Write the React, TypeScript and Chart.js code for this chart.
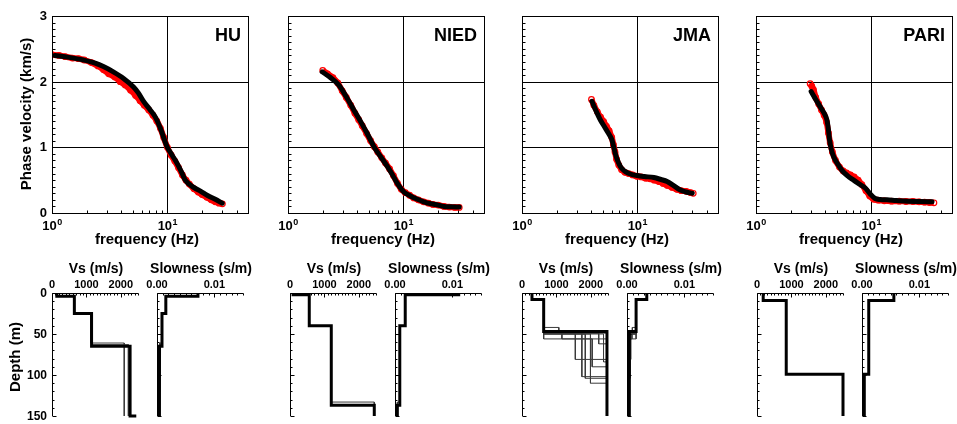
import React, { useEffect, useRef } from 'react';
import { Chart, registerables } from 'chart.js';

Chart.register(...registerables);

const W = 957;
const H = 424;
const FONT = '"Liberation Sans", Arial, Helvetica, sans-serif';

const siteNames = ['HU', 'NIED', 'JMA', 'PARI'];

// ---------- Dispersion: observed (red circles) ----------
const huObsFreq = [1.0, 1.15, 1.3, 1.5, 1.7, 1.9, 2.2, 2.5, 2.8, 3.1, 3.5, 3.9, 4.3, 4.8, 5.3, 5.8, 6.3, 6.9, 7.5, 8.1, 8.7, 9.3, 10.0, 10.8, 11.6, 12.5, 13.5, 14.5, 15.5, 17, 18.5, 20, 22, 24, 26, 28, 30];
const huObsVel = [2.41, 2.40, 2.38, 2.36, 2.35, 2.33, 2.29, 2.24, 2.18, 2.12, 2.07, 2.00, 1.95, 1.87, 1.79, 1.71, 1.64, 1.57, 1.49, 1.40, 1.29, 1.15, 1.00, 0.88, 0.79, 0.69, 0.58, 0.50, 0.44, 0.37, 0.32, 0.28, 0.24, 0.20, 0.17, 0.15, 0.14];
const niedObsFreq = [2.0, 2.2, 2.45, 2.7, 2.95, 3.2, 3.5, 3.8, 4.1, 4.4, 4.8, 5.2, 5.6, 6.0, 6.5, 7.0, 7.6, 8.2, 8.9, 9.6, 10.4, 11.3, 12.3, 13.5, 15, 16.5, 18, 20, 22.5, 25, 28, 30.5];
const niedObsVel = [2.17, 2.12, 2.06, 1.98, 1.86, 1.76, 1.64, 1.52, 1.42, 1.33, 1.21, 1.10, 1.01, 0.93, 0.84, 0.76, 0.67, 0.57, 0.45, 0.36, 0.31, 0.27, 0.23, 0.20, 0.17, 0.15, 0.13, 0.12, 0.10, 0.09, 0.085, 0.085];
const jmaObsFreq = [4.0, 4.2, 4.5, 4.8, 5.1, 5.4, 5.7, 6.0, 6.2, 6.4, 6.6, 6.9, 7.3, 7.8, 8.4, 9.1, 9.9, 10.8, 11.8, 12.9, 14.0, 15.3, 16.7, 18.2, 20, 22, 24, 26.5, 29, 30.5];
const jmaObsVel = [1.73, 1.64, 1.54, 1.46, 1.39, 1.32, 1.25, 1.15, 1.04, 0.93, 0.82, 0.73, 0.66, 0.62, 0.60, 0.58, 0.56, 0.55, 0.53, 0.52, 0.50, 0.48, 0.45, 0.42, 0.39, 0.36, 0.34, 0.33, 0.31, 0.30];
const pariObsFreq = [2.95, 3.05, 3.15, 3.3, 3.5, 3.7, 3.9, 4.1, 4.25, 4.4, 4.6, 4.9, 5.3, 5.7, 6.1, 6.6, 7.1, 7.7, 8.3, 9.0, 9.7, 10.5, 11.5, 13, 15, 17.5, 20, 23, 26, 29, 32, 35];
const pariObsVel = [1.97, 1.93, 1.88, 1.76, 1.66, 1.57, 1.49, 1.38, 1.22, 1.07, 0.93, 0.80, 0.70, 0.64, 0.61, 0.58, 0.55, 0.50, 0.43, 0.34, 0.26, 0.21, 0.195, 0.185, 0.18, 0.18, 0.175, 0.175, 0.17, 0.165, 0.16, 0.155];

// ---------- Dispersion: theoretical (black line) ----------
const huFitFreq = [1.06, 1.4, 1.87, 2.4, 2.79, 3.4, 4.17, 5.09, 5.6, 6.22, 7.1, 7.87, 8.7, 9.94, 11.0, 12.1, 13.3, 14.3, 16.9, 19.5, 22.1, 26, 29.9];
const huFitVel = [2.40, 2.37, 2.33, 2.28, 2.23, 2.15, 2.05, 1.92, 1.83, 1.70, 1.57, 1.46, 1.29, 1.01, 0.88, 0.76, 0.62, 0.50, 0.39, 0.33, 0.27, 0.21, 0.15];
const niedFitFreq = [1.98, 2.3, 2.75, 3.2, 3.72, 4.3, 4.86, 5.56, 6.4, 7.26, 8.0, 8.87, 10.1, 11.5, 13.2, 15, 17.3, 20, 22.5, 26, 30.5];
const niedFitVel = [2.15, 2.07, 1.95, 1.77, 1.57, 1.38, 1.21, 1.01, 0.85, 0.71, 0.59, 0.45, 0.32, 0.26, 0.21, 0.17, 0.14, 0.12, 0.10, 0.095, 0.09];
const jmaFitFreq = [4.04, 4.4, 4.77, 5.2, 5.63, 6.0, 6.23, 6.5, 6.88, 7.3, 7.87, 8.8, 9.94, 11.5, 13.9, 16, 18.1, 20.5, 23.6, 26.5, 29.9];
const jmaFitVel = [1.70, 1.55, 1.42, 1.31, 1.21, 1.12, 1.01, 0.88, 0.76, 0.68, 0.63, 0.59, 0.57, 0.555, 0.54, 0.51, 0.48, 0.42, 0.35, 0.32, 0.30];
const pariFitFreq = [3.01, 3.3, 3.6, 3.9, 4.12, 4.25, 4.35, 4.5, 4.71, 5.1, 5.57, 6.2, 7.03, 7.9, 8.88, 9.8, 10.8, 12, 13.7, 16.5, 20.5, 26, 33.7];
const pariFitVel = [1.85, 1.73, 1.62, 1.52, 1.42, 1.27, 1.11, 0.97, 0.86, 0.75, 0.65, 0.57, 0.50, 0.44, 0.38, 0.29, 0.22, 0.205, 0.20, 0.19, 0.18, 0.175, 0.17];

const obsFreq = [huObsFreq, niedObsFreq, jmaObsFreq, pariObsFreq];
const obsVel = [huObsVel, niedObsVel, jmaObsVel, pariObsVel];
const fitFreq = [huFitFreq, niedFitFreq, jmaFitFreq, pariFitFreq];
const fitVel = [huFitVel, niedFitVel, jmaFitVel, pariFitVel];

// ---------- Vs models: layer velocity (m/s) and layer base depth (m) ----------
const huBestVs = [140, 650, 1150, 2270, 2450];
const huBestBase = [4, 25, 65, 150, 150];
const huAltVs = [[140, 650, 1130, 2100], [140, 650, 1165, 2220]];
const huAltBase = [[4, 25, 61, 150], [4, 25, 63, 150]];

const niedBestVs = [90, 560, 1200, 2450];
const niedBestBase = [2, 40, 137, 150];
const niedAltVs = [[90, 560, 1190, 2450]];
const niedAltBase = [[2, 40, 133, 150]];

const jmaBestVs = [290, 630, 2470];
const jmaBestBase = [8, 47, 150];
const jmaAltVs = [
  [290, 630, 1070, 2470],
  [290, 630, 1160, 2470],
  [290, 630, 1550, 2470],
  [290, 630, 1740, 2470],
  [290, 630, 1840, 2470],
  [290, 630, 1990, 2470],
  [290, 630, 2040, 2470],
  [290, 630, 2230, 2470],
  [290, 630, 2370, 2470],
];
const jmaAltBase = [
  [8, 42, 49, 150],
  [8, 47, 56, 150],
  [8, 48, 81, 150],
  [8, 49, 102, 150],
  [8, 50, 104, 150],
  [8, 50, 110, 150],
  [8, 56, 90, 150],
  [8, 49, 62, 150],
  [8, 50, 84, 150],
];

const pariBestVs = [180, 850, 2500];
const pariBestBase = [9, 99, 150];
const pariAltVs: number[][] = [];
const pariAltBase: number[][] = [];

const bestVs = [huBestVs, niedBestVs, jmaBestVs, pariBestVs];
const bestBase = [huBestBase, niedBestBase, jmaBestBase, pariBestBase];
const altVs = [huAltVs, niedAltVs, jmaAltVs, pariAltVs];
const altBase = [huAltBase, niedAltBase, jmaAltBase, pariAltBase];

// ---------- ticks ----------
const velTicks = [0, 1, 2, 3];
const velGrid = [1, 2];
const freqGrid = [10];
const freqLabelTicks = [1, 10];
const freqMinorTicks = [1, 2, 3, 4, 5, 6, 7, 8, 9, 10, 20, 30, 40, 50];
const depthTicks = [0, 50, 100, 150];
const vsTicks = [0, 1000, 2000];
const slowTicks = [0, 0.01];

// ---------- layout (px) ----------
const DISP_LEFT = [52, 288, 522, 756];
const DISP_W = 196;
const DISP_TOP = 16;
const DISP_BOTTOM = 213;
const VS_LEFT = [52, 290, 522, 757];
const SLOW_GAP = 105;
const PROF_W = 86;
const PROF_TOP = 293;
const PROF_BOTTOM = 416;

const snap = (v: number) => Math.round(v) + 0.5;
function seg(ctx: CanvasRenderingContext2D, x1: number, y1: number, x2: number, y2: number) {
  ctx.beginPath();
  ctx.moveTo(x1, y1);
  ctx.lineTo(x2, y2);
  ctx.stroke();
}
function rotText(ctx: CanvasRenderingContext2D, text: string, x: number, y: number) {
  ctx.save();
  ctx.translate(x, y);
  ctx.rotate(-Math.PI / 2);
  ctx.textAlign = 'center';
  ctx.textBaseline = 'middle';
  ctx.fillText(text, 0, 0);
  ctx.restore();
}

function steps(vs: number[], base: number[], inv: boolean) {
  const pts: { x: number; y: number }[] = [];
  let top = 0;
  vs.forEach((v, k) => {
    const x = inv ? 1 / v : v;
    pts.push({ x, y: top }, { x, y: base[k] });
    top = base[k];
  });
  return pts;
}

function baseOptions(area: number[], xScale: any, yScale: any) {
  const [l, t, r, b] = area;
  return {
    responsive: false,
    animation: false,
    devicePixelRatio: 1,
    events: [],
    layout: { padding: { left: l, top: t, right: W - r, bottom: H - b } },
    plugins: { legend: { display: false }, tooltip: { enabled: false }, title: { display: false } },
    scales: { x: { ...xScale, display: false }, y: { ...yScale, display: false } },
  };
}

function dispDeco(i: number) {
  return {
    id: 'dispDeco',
    beforeDatasetsDraw(chart: any) {
      const { ctx, chartArea: a } = chart;
      const xs = chart.scales.x;
      const ys = chart.scales.y;
      ctx.save();
      ctx.strokeStyle = '#000';
      ctx.lineWidth = 1;
      for (const v of velGrid) {
        const py = snap(ys.getPixelForValue(v));
        seg(ctx, a.left, py, a.right, py);
      }
      for (const f of freqGrid) {
        const px = snap(xs.getPixelForValue(f));
        seg(ctx, px, a.top, px, a.bottom);
      }
      ctx.restore();
    },
    afterDraw(chart: any) {
      const { ctx, chartArea: a } = chart;
      const xs = chart.scales.x;
      const ys = chart.scales.y;
      ctx.save();
      ctx.strokeStyle = '#000';
      ctx.fillStyle = '#000';
      ctx.lineWidth = 1;
      const L = snap(a.left), R = snap(a.right), T = snap(a.top), B = snap(a.bottom);
      ctx.strokeRect(L, T, R - L, B - T);
      for (let k = 0; k <= 30; k++) {
        const py = snap(ys.getPixelForValue(k / 10));
        seg(ctx, L, py, L + (k % 10 === 0 ? 6 : 3), py);
      }
      for (const f of freqMinorTicks) {
        const px = snap(xs.getPixelForValue(f));
        const major = f === 1 || f === 10;
        seg(ctx, px, B, px, B - (major ? 6 : 3));
      }
      // x labels 10^n
      for (const f of freqLabelTicks) {
        const px = xs.getPixelForValue(f);
        const ex = String(Math.round(Math.log10(f)));
        ctx.font = `bold 13px ${FONT}`;
        const w1 = ctx.measureText('10').width;
        ctx.font = `bold 9px ${FONT}`;
        const w2 = ctx.measureText(ex).width;
        const x0 = px - (w1 + w2) / 2;
        ctx.textAlign = 'left';
        ctx.textBaseline = 'alphabetic';
        ctx.font = `bold 13px ${FONT}`;
        ctx.fillText('10', x0, 230);
        ctx.font = `bold 9px ${FONT}`;
        ctx.fillText(ex, x0 + w1 + 0.5, 224.5);
      }
      ctx.font = `bold 15px ${FONT}`;
      ctx.textAlign = 'center';
      ctx.fillText('frequency (Hz)', a.left + 95, 244);
      ctx.font = `bold 18px ${FONT}`;
      ctx.textAlign = 'right';
      ctx.fillText(siteNames[i], a.left + 189, 40.5);
      if (i === 0) {
        ctx.font = `bold 13px ${FONT}`;
        ctx.textAlign = 'right';
        ctx.textBaseline = 'middle';
        for (const v of velTicks) {
          ctx.fillText(String(v), a.left - 5, ys.getPixelForValue(v) + 0.5);
        }
        ctx.font = `bold 15px ${FONT}`;
        rotText(ctx, 'Phase velocity (km/s)', 26.5, 114);
      }
      ctx.restore();
    },
  };
}

function profDeco(i: number, kind: 'vs' | 'slow') {
  return {
    id: 'profDeco',
    afterDraw(chart: any) {
      const { ctx, chartArea: a } = chart;
      const xs = chart.scales.x;
      const ys = chart.scales.y;
      ctx.save();
      ctx.strokeStyle = '#000';
      ctx.fillStyle = '#000';
      ctx.lineWidth = 1;
      const L = snap(a.left), T = snap(a.top), R = snap(a.right);
      seg(ctx, L, T, R, T);
      seg(ctx, L, T, L, a.bottom);
      const n = kind === 'vs' ? 25 : 15;
      const stepV = kind === 'vs' ? 100 : 0.001;
      for (let k = 0; k <= n; k++) {
        const px = snap(xs.getPixelForValue(k * stepV));
        seg(ctx, px, T, px, T + (k % 10 === 0 ? 4 : 2));
      }
      for (let d = 0; d <= 150; d += 10) {
        const py = snap(ys.getPixelForValue(d));
        seg(ctx, L, py, L + (d % 50 === 0 ? 4 : 2), py);
      }
      ctx.font = `bold 11px ${FONT}`;
      ctx.textAlign = 'center';
      ctx.textBaseline = 'alphabetic';
      const labels = kind === 'vs' ? vsTicks : slowTicks;
      for (const v of labels) {
        const txt = kind === 'vs' ? String(v) : v.toFixed(2);
        ctx.fillText(txt, xs.getPixelForValue(v), 288);
      }
      ctx.font = `bold 14px ${FONT}`;
      ctx.fillText(kind === 'vs' ? 'Vs (m/s)' : 'Slowness (s/m)', a.left + 44, 273);
      if (i === 0 && kind === 'vs') {
        ctx.font = `bold 12px ${FONT}`;
        ctx.textAlign = 'right';
        ctx.textBaseline = 'middle';
        for (const d of depthTicks) {
          ctx.fillText(String(d), a.left - 5, ys.getPixelForValue(d) + 0.5);
        }
        ctx.font = `bold 15px ${FONT}`;
        rotText(ctx, 'Depth (m)', 16, 357);
      }
      ctx.restore();
    },
  };
}

function buildSpecs() {
  const specs: any[] = [];
  for (let i = 0; i < 4; i++) {
    const l = DISP_LEFT[i];
    specs.push({
      type: 'scatter',
      data: {
        datasets: [
          {
            data: fitFreq[i].map((f, k) => ({ x: f, y: fitVel[i][k] })),
            showLine: true,
            borderColor: '#000',
            borderWidth: 5,
            borderCapStyle: 'round',
            borderJoinStyle: 'round',
            pointRadius: 0,
            cubicInterpolationMode: 'monotone',
          },
          {
            data: obsFreq[i].map((f, k) => ({ x: f, y: obsVel[i][k] })),
            showLine: true,
            borderColor: '#ff0000',
            borderWidth: 6,
            pointRadius: 2.8,
            pointBorderWidth: 1.2,
            pointBorderColor: '#ff0000',
            pointBackgroundColor: 'rgba(0,0,0,0)',
            tension: 0.3,
          },
        ],
      },
      options: baseOptions(
        [l, DISP_TOP, l + DISP_W, DISP_BOTTOM],
        { type: 'logarithmic', min: 1, max: 50 },
        { type: 'linear', min: 0, max: 3 },
      ),
      plugins: [dispDeco(i)],
    });
  }
  for (let i = 0; i < 4; i++) {
    for (const kind of ['vs', 'slow'] as const) {
      const inv = kind === 'slow';
      const l = kind === 'vs' ? VS_LEFT[i] : VS_LEFT[i] + SLOW_GAP;
      const datasets: any[] = [
        {
          data: steps(bestVs[i], bestBase[i], inv),
          showLine: true,
          borderColor: '#000',
          borderWidth: 3,
          pointRadius: 0,
          clip: 4,
        },
      ];
      altVs[i].forEach((m, k) => {
        datasets.push({
          data: steps(m, altBase[i][k], inv),
          showLine: true,
          borderColor: '#3a3a3a',
          borderWidth: 1,
          pointRadius: 0,
          clip: 4,
        });
      });
      specs.push({
        type: 'scatter',
        data: { datasets },
        options: baseOptions(
          [l, PROF_TOP, l + PROF_W, PROF_BOTTOM],
          { type: 'linear', min: 0, max: kind === 'vs' ? 2500 : 0.015 },
          { type: 'linear', min: 0, max: 150, reverse: true },
        ),
        plugins: [profDeco(i, kind)],
      });
    }
  }
  return specs;
}

export default function App() {
  const refs = useRef<(HTMLCanvasElement | null)[]>([]);
  useEffect(() => {
    const specs = buildSpecs();
    const charts = specs.map((s, k) => new Chart(refs.current[k] as HTMLCanvasElement, s));
    return () => charts.forEach((c) => c.destroy());
  }, []);
  return (
    <div style={{ position: 'absolute', left: 0, top: 0, width: W, height: H, background: '#fff', overflow: 'hidden' }}>
      {Array.from({ length: 12 }).map((_, k) => (
        <canvas
          key={k}
          ref={(el) => {
            refs.current[k] = el;
          }}
          width={W}
          height={H}
          style={{ position: 'absolute', left: 0, top: 0, width: W, height: H }}
        />
      ))}
    </div>
  );
}
